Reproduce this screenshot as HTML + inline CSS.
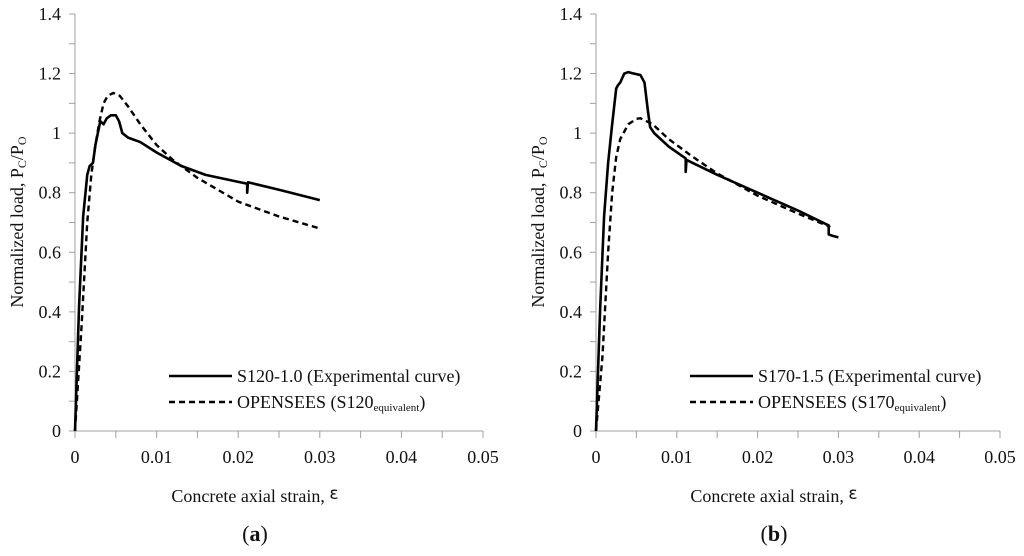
<!DOCTYPE html>
<html><head><meta charset="utf-8"><style>
body{margin:0;background:#fff;width:1024px;height:551px;overflow:hidden}
svg text{font-family:"Liberation Serif",serif;fill:#111}
</style></head><body>
<svg id="svg" width="1024" height="551"></svg>
<script>
const xTicks=[0,0.01,0.02,0.03,0.04,0.05];
const xTickLabels=["0","0.01","0.02","0.03","0.04","0.05"];
const yTicks=[0,0.2,0.4,0.6,0.8,1,1.2,1.4];
const yTickLabels=["0","0.2","0.4","0.6","0.8","1","1.2","1.4"];
const aExpX=[0,0.0005,0.001,0.0015,0.0018,0.0022,0.0025,0.0028,0.0031,0.0035,0.0039,0.0044,0.005,0.0054,0.0058,0.0065,0.008,0.01,0.013,0.016,0.0211,0.0211,0.0212,0.025,0.03];
const aExpY=[0,0.42,0.72,0.86,0.89,0.9,0.96,1.0,1.04,1.03,1.05,1.06,1.06,1.04,1.0,0.985,0.97,0.935,0.89,0.86,0.83,0.8,0.835,0.81,0.775];
const aSimX=[0,0.0008,0.0015,0.002,0.0025,0.003,0.0035,0.004,0.0047,0.0055,0.0065,0.008,0.01,0.012,0.015,0.02,0.025,0.03];
const aSimY=[0,0.35,0.7,0.86,0.96,1.04,1.1,1.125,1.135,1.125,1.09,1.03,0.96,0.91,0.85,0.77,0.72,0.68];
const bExpX=[0,0.0005,0.001,0.0015,0.002,0.0025,0.0027,0.003,0.0035,0.004,0.0047,0.0055,0.006,0.0064,0.0067,0.0072,0.009,0.0111,0.0111,0.0112,0.015,0.02,0.025,0.0288,0.0288,0.0293,0.03];
const bExpY=[0,0.4,0.72,0.9,1.03,1.15,1.16,1.17,1.2,1.205,1.2,1.195,1.17,1.08,1.02,1.0,0.955,0.915,0.87,0.91,0.86,0.8,0.74,0.69,0.66,0.655,0.65];
const bSimX=[0,0.0008,0.0015,0.002,0.0025,0.003,0.004,0.005,0.0055,0.007,0.009,0.012,0.015,0.02,0.025,0.029];
const bSimY=[0,0.25,0.6,0.8,0.92,0.98,1.03,1.048,1.05,1.03,0.98,0.92,0.865,0.79,0.73,0.685];
const NS="http://www.w3.org/2000/svg";
const svg=document.getElementById('svg');
function mk(t,a,p){const e=document.createElementNS(NS,t);for(const k in a)e.setAttribute(k,a[k]);(p||svg).appendChild(e);return e;}
function panel(x0,x1,ex,ey,sx,sy,leg1,leg2,tag,name){
  const y0=431,y1=14;
  const g=mk('g',{});
  
  
  const X=v=>x0+(x1-x0)*v/0.05, Y=v=>y0-(y0-y1)*v/1.4;
  const ax=mk('g',{stroke:'#a0a0a0','stroke-width':1},g);
  
  
  mk('line',{x1:x0,y1:y0,x2:x1,y2:y0},ax);
  mk('line',{x1:x0,y1:y0,x2:x0,y2:y1},ax);
  for(let i=0;i<=10;i++){const v=i*0.005;mk('line',{x1:X(v),y1:y0,x2:X(v),y2:y0+7},ax);}
  for(let i=0;i<=14;i++){const v=i*0.1;mk('line',{x1:x0-6,y1:Y(v),x2:x0,y2:Y(v)},ax);}
  xTicks.forEach((v,i)=>{const t=mk('text',{x:X(v),y:y0+32,'text-anchor':'middle','font-size':18},g);t.textContent=xTickLabels[i];
    });
  yTicks.forEach((v,i)=>{const t=mk('text',{x:x0-14,y:Y(v)+6,'text-anchor':'end','font-size':18},g);t.textContent=yTickLabels[i];
    });
  const xt=mk('text',{x:(x0+x1)/2-24,y:502,'text-anchor':'middle','font-size':18},g);
  xt.innerHTML='Concrete axial strain, <tspan font-family="DejaVu Sans" font-size="17" dy="-3">ε</tspan>';
  
  const yt=mk('text',{transform:`translate(${x0-52},${222}) rotate(-90)`,'text-anchor':'middle','font-size':18},g);
  yt.innerHTML='Normalized load, P<tspan font-size="12" dy="3">C</tspan><tspan dy="-3">/P</tspan><tspan font-size="12" dy="3">O</tspan>';
  
  const lab=mk('text',{x:(x0+x1)/2-24,y:541,'text-anchor':'middle','font-size':22},g);
  lab.innerHTML='(<tspan font-weight="bold">'+tag+'</tspan>)';
  
  const p1=mk('polyline',{points:ex.map((v,i)=>X(v)+','+Y(ey[i])).join(' '),fill:'none',stroke:'#000','stroke-width':2.6,'stroke-linejoin':'round'},g);
  
  const p2=mk('polyline',{points:sx.map((v,i)=>X(v)+','+Y(sy[i])).join(' '),fill:'none',stroke:'#000','stroke-width':2.4,'stroke-dasharray':'6,4'},g);
  
  const lg=mk('g',{},g);
  
  const lx=x0+94;
  mk('line',{x1:lx,y1:376,x2:lx+63,y2:376,stroke:'#000','stroke-width':2.6},lg);
  mk('line',{x1:lx,y1:402,x2:lx+63,y2:402,stroke:'#000','stroke-width':2.4,'stroke-dasharray':'6,4'},lg);
  const t1=mk('text',{x:lx+68,y:382,'font-size':18},lg);t1.textContent=leg1;
  
  const t2=mk('text',{x:lx+68,y:408,'font-size':18},lg);t2.innerHTML='OPENSEES ('+leg2+'<tspan font-size="11" dy="3">equivalent</tspan><tspan dy="-3">)</tspan>';
  
}
panel(75,483,aExpX,aExpY,aSimX,aSimY,'S120-1.0 (Experimental curve)','S120','a','chart-a');
panel(596,1000,bExpX,bExpY,bSimX,bSimY,'S170-1.5 (Experimental curve)','S170','b','chart-b');
</script>
</body></html>
